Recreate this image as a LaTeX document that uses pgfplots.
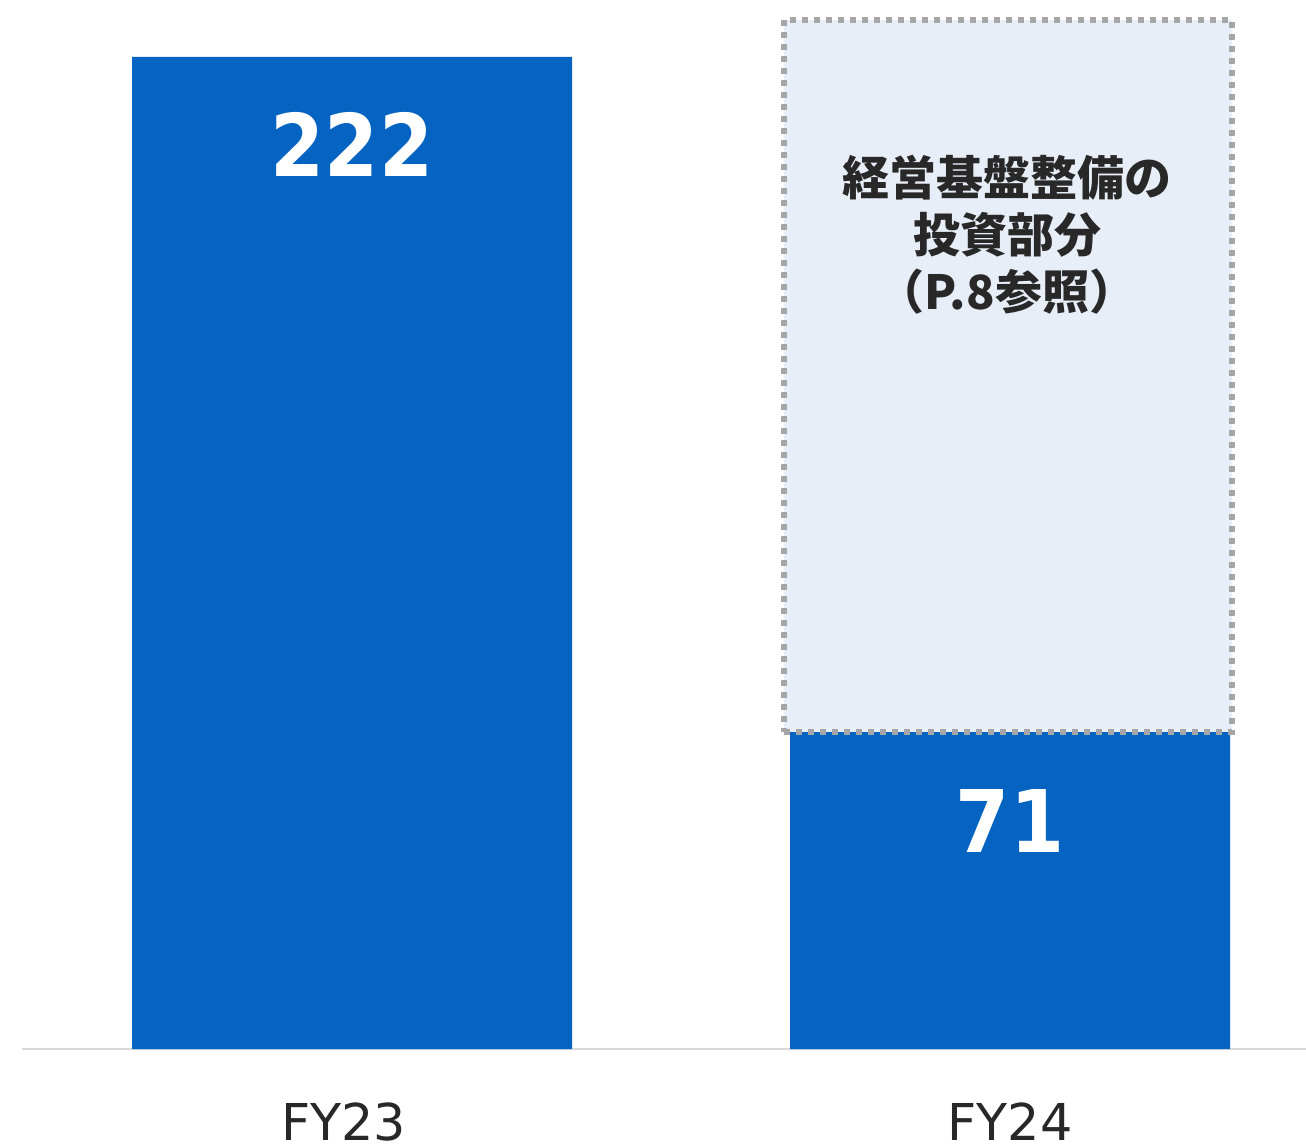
\documentclass[border=0pt]{standalone}
\usepackage{fontspec}
\setmainfont{DejaVu Sans}
\newfontfamily\numfont{DejaVu Sans}[FakeStretch=0.9]
\newfontfamily\jp{Noto Sans CJK JP}
\usepackage{pgfplots}
\pgfplotsset{compat=1.18}
\definecolor{barblue}{RGB}{5,99,193}
\definecolor{boxfill}{RGB}{232,238,248}
\definecolor{boxline}{RGB}{166,166,166}
\definecolor{txt}{RGB}{40,40,40}
\definecolor{axisgray}{RGB}{217,217,217}
\begin{document}
\begin{tikzpicture}
\useasboundingbox (0,0) rectangle (653pt,573.5pt);
\begin{axis}[
  at={(11pt,49pt)}, anchor=south west,
  scale only axis, width=642pt, height=524.5pt,
  xmin=-0.5015, xmax=1.4498, ymin=0, ymax=234.75,
  axis x line*=bottom, hide y axis,
  x axis line style={-, draw=axisgray, line width=1.2pt},
  xtick={-0.0129,1}, xticklabels={FY23,FY24}, major tick length=0pt,
  xticklabel style={anchor=base, inner sep=0pt, yshift=-45.5pt, font=\fontsize{25.4}{30}\selectfont, text=txt},
  clip=false,
]
\addplot[ybar, bar width=220pt, fill=barblue, draw=none] coordinates {(0,222) (1,71)};
\addplot[fill=boxfill, draw=boxline, line width=3pt, dash pattern=on 3pt off 3pt] coordinates {(0.6565,71) (1.3374,71) (1.3374,230.3) (0.6565,230.3)} -- cycle;
\node[text=white, font=\numfont\bfseries\fontsize{43.2}{50}\selectfont] at (axis cs:0,202.4) {222};
\node[text=white, font=\numfont\bfseries\fontsize{43.2}{50}\selectfont] at (axis cs:1,51) {71};
\node[align=center, text=txt, font=\jp\bfseries\fontsize{23.5}{28.5}\selectfont] at (axis cs:0.9954,182.2) {経営基盤整備の\\投資部分\\（P.8参照）};
\end{axis}
\end{tikzpicture}
\end{document}
